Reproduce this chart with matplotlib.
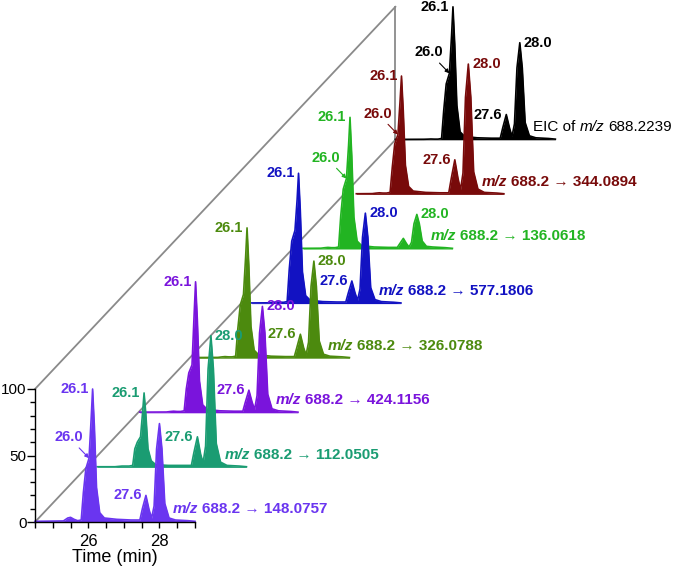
import numpy as np
import matplotlib
matplotlib.use("Agg")
import matplotlib.pyplot as plt
from matplotlib.offsetbox import TextArea, HPacker, AnnotationBbox

plt.rcParams['font.family'] = ['Liberation Sans', 'DejaVu Sans']

# ---------------- data ----------------
TIME = [24.5, 25.3, 25.42, 25.5, 25.6, 25.7, 25.8, 25.86, 25.93, 26.02, 26.08,
        26.12, 26.17, 26.23, 26.32, 26.45, 26.8, 27.2, 27.45, 27.52, 27.62, 27.71,
        27.78, 27.85, 27.92, 28.0, 28.07, 28.15, 28.27, 28.45, 28.8, 29.0]

START = [24.5, 24.8, 24.55, 24.6, 24.8, 24.8, 24.85, 24.5]

I_148 = [0.5, 0.8, 3, 3.5, 2, 1, 1.5, 22, 40, 48, 78, 100, 72, 26, 7, 3, 2, 1.5, 1.5,
         10, 20, 9, 3, 12, 55, 74, 55, 14, 3, 1.5, 1, 0.5]
I_112 = [0.5, 0.5, 0.8, 1, 1, 1, 1.5, 14, 19, 23, 42, 56, 40, 14, 5, 2, 1.5, 1.5, 1.5,
         11, 23, 10, 3.5, 16, 74, 99, 74, 18, 4, 1.5, 1, 0.5]
I_424 = [0.5, 0.6, 1, 1.2, 1, 1, 1.5, 18, 30, 36, 74, 98.5, 70, 24, 6, 2.5, 1.5, 1.2, 1.2,
         8, 17, 8, 2.5, 13, 60, 80, 60, 14, 3, 1.5, 1, 0.5]
I_326 = [0.5, 0.6, 1, 1.2, 1, 1, 1.5, 22, 40, 48, 76, 98, 70, 24, 6, 2.5, 1.5, 1.2, 1.2,
         8, 18, 8, 2.5, 12, 54, 73, 54, 13, 3, 1.5, 1, 0.5]
I_577 = [0.5, 0.6, 1, 1.2, 1, 1, 1.5, 26, 47, 55, 78, 98, 70, 24, 6, 2.5, 1.5, 1.2, 1.2,
         8, 17, 8, 2.5, 11, 50, 68, 50, 12, 3, 1.5, 1, 0.5]
I_136 = [0.5, 0.6, 1, 1.2, 1, 1, 1.5, 25, 45, 53, 78, 99, 70, 24, 6, 2.5, 1.5, 1.2, 1.2,
         4, 8, 4, 1.5, 5, 19, 26, 19, 6, 2, 1.5, 1, 0.5]
I_344 = [0.5, 0.6, 1, 1.2, 1, 1, 1.5, 20, 38, 45, 70, 89, 63, 22, 6, 2.5, 1.5, 1.2, 1.2,
         12, 26, 12, 3.5, 16, 73, 98, 73, 17, 4, 1.5, 1, 0.5]
I_EIC = [0.3, 0.4, 0.5, 0.6, 0.5, 0.5, 1, 22, 42, 50, 78, 100, 72, 26, 6, 2.5, 1.5, 1.2, 1.2,
         9, 19, 9, 2.5, 12, 54, 73, 54, 13, 3, 1.5, 1, 0.5]

SERIES = [I_148, I_112, I_424, I_326, I_577, I_136, I_344, I_EIC]
PRODUCTS = ["148.0757", "112.0505", "424.1156", "326.0788",
            "577.1806", "136.0618", "344.0894", None]
COLORS = ['#6a35f0', '#1a9c72', '#7a14dc', '#4c8a0e', '#1212c2', '#22b422', '#780a0a', '#000000']

PEAK_LABELS = [
    ['26.1', '26.0', '27.6'],
    ['26.1', '27.6', '28.0'],
    ['26.1', '27.6', '28.0'],
    ['26.1', '27.6', '28.0'],
    ['26.1', '27.6', '28.0'],
    ['26.1', '26.0', '28.0'],
    ['26.1', '26.0', '27.6', '28.0'],
    ['26.1', '26.0', '27.6', '28.0'],
]
# index of the vertex each label refers to
LABEL_INDEX = {'26.1': 11, '26.0': 9, '27.6': 20, '28.0': 25}

X_TICKS = [24.5, 25.0, 25.5, 26.0, 26.5, 27.0, 27.5, 28.0, 28.5, 29.0]
X_TICK_LABELS = ['', '', '', '26', '', '', '', '28', '', '']
Y_TICKS_MAJOR = [0, 50, 100]

# ---------------- layout ----------------
W, H = 677, 574
fig = plt.figure(figsize=(W / 100, H / 100), dpi=100)
ax = fig.add_axes([35 / W, 52 / H, 160 / W, 133 / H])
ax.set_xlim(24.5, 29)
ax.set_ylim(0, 100)

DT = 51.4 / 35.5      # time shift per trace
DI = 54.6 / 1.33      # intensity shift per trace
N = len(SERIES)

# box lines (gray)
gray = '#8a8a8a'
x0, x1 = 24.5, 24.5 + (N - 1) * DT
y1 = (N - 1) * DI
ax.plot([x0, x1], [0, y1], color=gray, lw=1.3, clip_on=False, zorder=1)
ax.plot([x0, x1], [100, 100 + y1], color=gray, lw=1.3, clip_on=False, zorder=1)
ax.plot([x1, x1], [y1, 100 + y1], color=gray, lw=1.3, clip_on=False, zorder=1)

for k, (vals, col) in enumerate(zip(SERIES, COLORS)):
    t = np.array(TIME, dtype=float)
    t[0] = START[k]
    v = np.array(vals, dtype=float)
    ot, oi = k * DT, k * DI
    z = 40 - 3 * k
    ax.fill_between(t + ot, oi, v + oi, color=col, lw=0, clip_on=False, zorder=z)
    ax.plot(t + ot, v + oi, color=col, lw=1.2, clip_on=False, zorder=z + 1)

    # peak labels
    for lab in PEAK_LABELS[k]:
        i = LABEL_INDEX[lab]
        xy = (t[i] + ot, v[i] + oi)
        if lab == '26.0':
            ax.annotate(lab, xy=xy, xytext=(-6, 21), textcoords='offset pixels',
                        ha='right', va='center', fontsize=10.5, fontweight='bold', color=col,
                        zorder=60, annotation_clip=False,
                        arrowprops=dict(arrowstyle='-|>', color=col, lw=0.8,
                                        mutation_scale=6, shrinkA=1, shrinkB=0))
        elif lab == '28.0':
            ax.annotate(lab, xy=xy, xytext=(4, 0), textcoords='offset pixels',
                        ha='left', va='center', fontsize=10.5, fontweight='bold', color=col,
                        zorder=60, annotation_clip=False)
        else:
            ax.annotate(lab, xy=xy, xytext=(-4, 0), textcoords='offset pixels',
                        ha='right', va='center', fontsize=10.5, fontweight='bold', color=col,
                        zorder=60, annotation_clip=False)

    # trace label
    if PRODUCTS[k] is not None:
        parts = [TextArea("m/z", textprops=dict(style='italic', fontweight='bold', color=col, fontsize=11)),
                 TextArea("688.2 \u2192 " + PRODUCTS[k],
                          textprops=dict(fontweight='bold', color=col, fontsize=11))]
    else:
        parts = [TextArea("EIC of", textprops=dict(color=col, fontsize=11)),
                 TextArea("m/z", textprops=dict(style='italic', color=col, fontsize=11)),
                 TextArea("688.2239", textprops=dict(color=col, fontsize=11))]
    pack = HPacker(children=parts, sep=3, pad=0, align='baseline')
    ab = AnnotationBbox(pack, (28.38 + ot, 9.5 + oi), xycoords='data',
                        box_alignment=(0, 0.5), frameon=False, pad=0,
                        annotation_clip=False, zorder=60)
    ax.add_artist(ab)

# axes styling
for s in ['top', 'right']:
    ax.spines[s].set_visible(False)
for s in ['left', 'bottom']:
    ax.spines[s].set_linewidth(1.0)
    ax.spines[s].set_zorder(50)
ax.set_xticks(X_TICKS)
ax.set_xticklabels(X_TICK_LABELS)
ax.set_yticks(Y_TICKS_MAJOR)
ax.set_yticks(np.arange(0, 101, 10), minor=True)
ax.tick_params(axis='x', direction='out', length=4.5, width=1, labelsize=12, pad=4)
ax.tick_params(axis='y', which='major', direction='out', length=5.5, width=1, labelsize=11, pad=0.5)
ax.tick_params(axis='y', which='minor', direction='out', length=3.5, width=1)
ax.set_xlabel('Time (min)', fontsize=13, labelpad=0)
ax.patch.set_visible(False)

fig.savefig('out.png', dpi=100)
